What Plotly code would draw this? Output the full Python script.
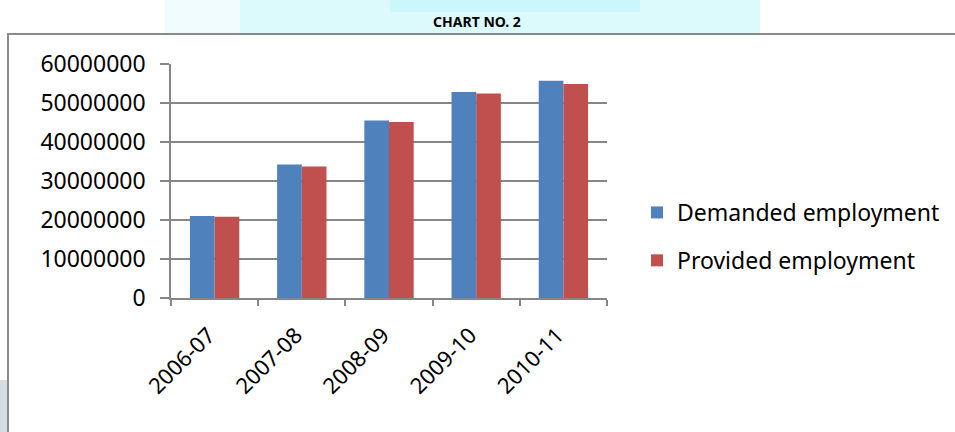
import plotly.graph_objects as go

# ---- data ----
years = ["2006-07", "2007-08", "2008-09", "2009-10", "2010-11"]
demanded = [21040000, 34200000, 45500000, 52800000, 55700000]
provided = [20860000, 33700000, 45100000, 52450000, 54900000]
series_names = ["Demanded employment", "Provided employment"]
y_ticks = [0, 10000000, 20000000, 30000000, 40000000, 50000000, 60000000]

W, H = 955, 432
L, R, T, B = 171, 348, 64, 134
PW, PH = W - L - R, H - T - B

def px(x):
    return (x - L) / PW

def py(y):
    return (H - B - y) / PH

FONT = "Noto Sans"
GRID = "#868686"

fig = go.Figure()
fig.add_trace(go.Bar(x=years, y=demanded, name=series_names[0],
                     marker=dict(color="#4F81BD", line=dict(width=0)),
                     legendgroup="a"))
fig.add_trace(go.Bar(x=years, y=provided, name=series_names[1],
                     marker=dict(color="#C0504D", line=dict(width=0)),
                     legendgroup="b"))

shapes = []
def rect(x0, y0, x1, y1, fill=None, line=None, layer="below"):
    d = dict(type="rect", xref="paper", yref="paper",
             x0=px(x0), x1=px(x1), y0=py(y1), y1=py(y0), layer=layer)
    d["fillcolor"] = fill if fill else "rgba(0,0,0,0)"
    d["line"] = line if line else dict(width=0)
    return d

# decorative background strips
shapes.append(rect(165, 0, 240, 34, fill="#f0fcfd"))
shapes.append(rect(240, 0, 760, 34, fill="#dcf9fc"))
shapes.append(rect(390, 0, 640, 12, fill="#cbf7fb"))
shapes.append(rect(0, 380, 7, 432, fill="#d6dde4"))
# chart border
shapes.append(rect(8, 34, 980, 460, line=dict(color="#8a8a8a", width=2)))

fig.update_layout(
    width=W, height=H,
    margin=dict(l=L, r=R, t=T, b=B, autoexpand=False),
    paper_bgcolor="white", plot_bgcolor="white",
    barmode="group", bargap=0.434, bargroupgap=0,
    shapes=shapes,
    title=dict(text="CHART NO. 2", x=477 / W, xanchor="center",
               y=1 - 22 / H, yanchor="middle", xref="container", yref="container",
               font=dict(family=FONT, size=14, color="black", weight="bold")),
    legend=dict(xref="container", yref="container",
                x=637 / W, xanchor="left", y=1 - 191 / H, yanchor="top",
                font=dict(family=FONT, size=23, color="black"),
                bgcolor="rgba(0,0,0,0)", tracegroupgap=15,
                traceorder="grouped"),
    xaxis=dict(
        type="category",
        showline=True, linecolor=GRID, linewidth=1.5,
        ticks="outside", tickson="boundaries", ticklen=6, tickcolor=GRID, tickwidth=1.5,
        tickangle=-45, ticklabelstandoff=14, ticklabelshift=-6,
        tickfont=dict(family=FONT, size=22, color="black"),
        showgrid=False, zeroline=False,
    ),
    yaxis=dict(
        range=[0, 60000000], tickvals=y_ticks, tickformat="d",
        showline=True, linecolor=GRID, linewidth=1.5,
        ticks="outside", ticklen=9, tickcolor=GRID, tickwidth=1.5,
        showgrid=True, gridcolor=GRID, gridwidth=1.5,
        zeroline=False,
        tickfont=dict(family=FONT, size=23, color="black"),
        ticklabelstandoff=10,
    ),
)

fig.write_html("out.html")
